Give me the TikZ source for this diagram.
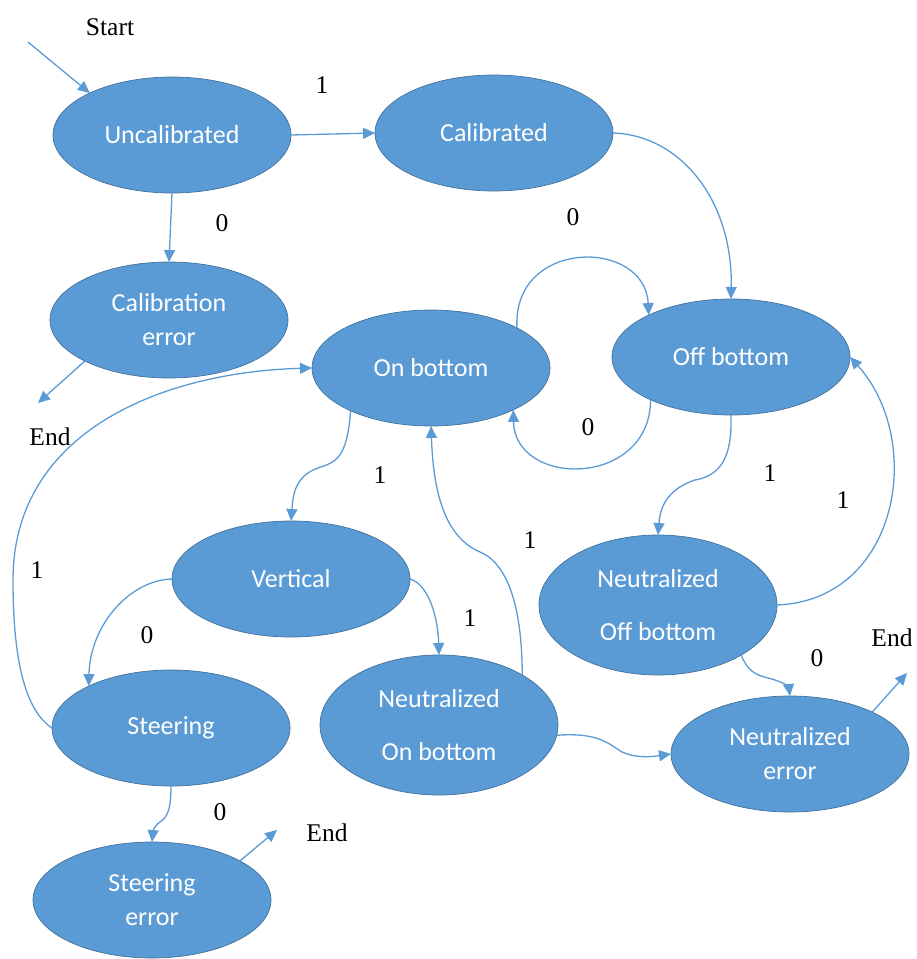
\documentclass[tikz,border=0pt]{standalone}
\usepackage{fontspec}
\setmainfont{Liberation Serif}
\newfontfamily\statefont{Carlito}
\usetikzlibrary{shapes.geometric,arrows.meta}
\definecolor{statefill}{HTML}{5B9BD5}
\definecolor{stateedge}{HTML}{41719C}
\definecolor{wire}{HTML}{5B9BD5}
\begin{document}
\begin{tikzpicture}[x=1pt,y=-1pt,
  state/.style={ellipse, fill=statefill, draw=stateedge, line width=0.7pt,
    inner sep=0pt, outer sep=0pt, minimum width=238pt, minimum height=116pt,
    text=white, align=center, font=\statefont\fontsize{26}{34}\selectfont},
  tall/.style={minimum height=140pt, font=\statefont\fontsize{26}{53}\selectfont},
  link/.style={draw=wire, line width=1.3pt, -{Triangle[length=12pt,width=11pt]}},
  lbl/.style={font=\fontsize{25.5}{30}\selectfont, inner sep=0pt}
]
\useasboundingbox (0,0) rectangle (917,959);

% states
\node[state] (U) at (172,135) {Uncalibrated};
\node[state] (C) at (494,133) {Calibrated};
\node[state] (CE) at (169,320) {Calibration\\error};
\node[state] (OnB) at (431,368) {On bottom};
\node[state] (OffB) at (731,357) {Off bottom};
\node[state] (V) at (291,579) {Vertical};
\node[state,tall] (NOff) at (658,605) {Neutralized\\Off bottom};
\node[state] (S) at (171,728) {Steering};
\node[state,tall] (NOn) at (439,725) {Neutralized\\On bottom};
\node[state] (NE) at (790,754) {Neutralized\\error};
\node[state] (SE) at (152,900) {Steering\\error};

% free ends of the entry and exit arrows
\coordinate (start) at (28,42);
\coordinate (end1) at (38,403);
\coordinate (end2) at (277,830);
\coordinate (end3) at (907,673);

% transitions
\draw[link] (start) -- (U.153);
\draw[link] (U.east) -- (C.west);
\draw[link] (U.south) -- (CE.north);
\draw[link] (CE.206) -- (end1);
\draw[link] (C.east) .. controls (680,135) and (733,200) .. (OffB.north);
\draw[link] (OnB.25) .. controls (512,238) and (645,238) .. (OffB.153);
\draw[link] (OffB.208) .. controls (650,488) and (515,488) .. (OnB.333);
\draw[link] (OnB.208) .. controls (347,460) and (335,462) .. (318,468)
  .. controls (295,476) and (293,495) .. (V.north);
\draw[link] (OffB.south) .. controls (732,450) and (725,475) .. (695,480)
  .. controls (665,490) and (660,510) .. (NOff.north);
\draw[link] (NOff.east) .. controls (900,600) and (925,440) .. (OffB.east);
\draw[link] (NOn.31) .. controls (522,590) and (500,560) .. (480,552)
  .. controls (440,535) and (433,480) .. (OnB.south);
\draw[link] (V.west) .. controls (130,580) and (90,625) .. (S.153);
\draw[link] (V.east) .. controls (430,585) and (438,620) .. (NOn.north);
\draw[link] (S.west) .. controls (25,710) and (13,660) .. (13,580)
  .. controls (13,430) and (165,372) .. (OnB.west);
\draw[link] (S.south) .. controls (171,815) and (165,818) .. (160,822)
  .. controls (154,826) and (153,832) .. (SE.north);
\draw[link] (SE.24) -- (end2);
\draw[link] (NOn.355) .. controls (600,732) and (610,745) .. (622,752)
  .. controls (635,758) and (650,757) .. (NE.west);
\draw[link] (NOff.329) .. controls (747,670) and (755,675) .. (768,678)
  .. controls (785,682) and (789,688) .. (NE.north);
\draw[link] (NE.27) -- (end3);

% labels
\node[lbl] (tStart) at (110,27) {Start};
\node[lbl] (t1) at (322,85) {1};
\node[lbl] (t2) at (222,223) {0};
\node[lbl] (t3) at (573,217) {0};
\node[lbl] (t4) at (50,437) {End};
\node[lbl] (t5) at (588,427) {0};
\node[lbl] (t6) at (380,475) {1};
\node[lbl] (t7) at (770,473) {1};
\node[lbl] (t8) at (843,500) {1};
\node[lbl] (t9) at (530,540) {1};
\node[lbl] (t10) at (37,570) {1};
\node[lbl] (t11) at (147,635) {0};
\node[lbl] (t12) at (470,618) {1};
\node[lbl] (t13) at (892,638) {End};
\node[lbl] (t14) at (817,658) {0};
\node[lbl] (t15) at (220,812) {0};
\node[lbl] (t16) at (327,833) {End};
\end{tikzpicture}
\end{document}
